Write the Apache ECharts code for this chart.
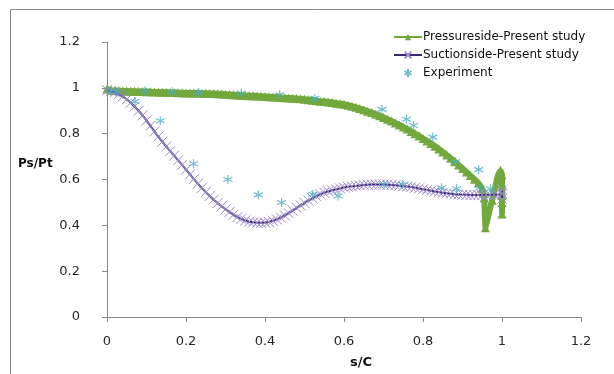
<!DOCTYPE html>
<html><head><meta charset="utf-8">
<script src="https://cdn.jsdelivr.net/npm/echarts@6/dist/echarts.min.js"></script>
<style>html,body{margin:0;padding:0;background:#fff}#c{width:614px;height:374px}</style>
</head><body><div id="c"></div>
<script>
const xTicks = [0, 0.2, 0.4, 0.6, 0.8, 1, 1.2];
const yTicks = [0, 0.2, 0.4, 0.6, 0.8, 1, 1.2];
const seriesNames = ['Pressureside-Present study', 'Suctionside-Present study', 'Experiment'];

const pressureX = [0,0.01,0.02,0.03,0.04,0.05,0.06,0.07,0.08,0.09,0.10,0.11,0.12,0.13,0.14,0.15,0.16,0.17,0.18,0.19,0.20,0.21,0.22,0.23,0.24,0.25,0.26,0.27,0.28,0.29,0.30,0.31,0.32,0.33,0.34,0.35,0.36,0.37,0.38,0.39,0.40,0.41,0.42,0.43,0.44,0.45,0.46,0.47,0.48,0.49,0.50,0.51,0.52,0.53,0.54,0.55,0.56,0.57,0.58,0.59,0.60,0.61,0.62,0.63,0.64,0.65,0.66,0.67,0.68,0.69,0.70,0.71,0.72,0.73,0.74,0.75,0.76,0.77,0.78,0.79,0.80,0.81,0.82,0.83,0.84,0.85,0.86,0.87,0.88,0.89,0.90,0.91,0.92,0.93,0.94,0.95,0.955,0.958,0.975,0.99,0.996,1.0,1.0,1.0,1.0,1.0];
const pressureY = [0.995,0.99,0.988,0.987,0.986,0.986,0.985,0.985,0.984,0.984,0.983,0.983,0.982,0.982,0.981,0.981,0.980,0.980,0.979,0.979,0.978,0.978,0.977,0.977,0.976,0.976,0.975,0.975,0.974,0.973,0.972,0.971,0.970,0.969,0.968,0.967,0.966,0.965,0.964,0.963,0.962,0.961,0.960,0.959,0.958,0.957,0.956,0.955,0.953,0.952,0.950,0.948,0.946,0.944,0.942,0.940,0.938,0.936,0.933,0.931,0.928,0.924,0.920,0.915,0.910,0.904,0.898,0.892,0.885,0.878,0.871,0.863,0.855,0.847,0.838,0.829,0.820,0.810,0.800,0.790,0.779,0.768,0.757,0.745,0.733,0.720,0.707,0.693,0.678,0.663,0.648,0.633,0.617,0.601,0.585,0.560,0.520,0.390,0.510,0.620,0.640,0.620,0.580,0.530,0.500,0.450];

const suctionX = [0,0.01,0.02,0.03,0.04,0.05,0.06,0.07,0.08,0.09,0.10,0.11,0.12,0.13,0.14,0.15,0.16,0.17,0.18,0.19,0.20,0.21,0.22,0.23,0.24,0.25,0.26,0.27,0.28,0.29,0.30,0.31,0.32,0.33,0.34,0.35,0.36,0.37,0.38,0.39,0.40,0.41,0.42,0.43,0.44,0.45,0.46,0.47,0.48,0.49,0.50,0.51,0.52,0.53,0.54,0.55,0.56,0.57,0.58,0.59,0.60,0.61,0.62,0.63,0.64,0.65,0.66,0.67,0.68,0.69,0.70,0.71,0.72,0.73,0.74,0.75,0.76,0.77,0.78,0.79,0.80,0.81,0.82,0.83,0.84,0.85,0.86,0.87,0.88,0.89,0.90,0.91,0.92,0.93,0.94,0.95,0.96,0.97,0.98,0.99,1.0,1.0,1.0,1.0];
const suctionY = [0.99,0.985,0.98,0.972,0.962,0.95,0.935,0.918,0.90,0.88,0.858,0.834,0.81,0.787,0.765,0.744,0.724,0.704,0.684,0.664,0.643,0.622,0.602,0.582,0.563,0.545,0.528,0.512,0.497,0.483,0.470,0.458,0.446,0.436,0.428,0.421,0.416,0.413,0.411,0.411,0.412,0.415,0.420,0.426,0.434,0.443,0.453,0.464,0.476,0.487,0.498,0.508,0.518,0.527,0.535,0.542,0.548,0.553,0.557,0.561,0.565,0.568,0.570,0.572,0.574,0.576,0.577,0.578,0.578,0.578,0.578,0.577,0.576,0.575,0.573,0.571,0.569,0.567,0.564,0.561,0.557,0.554,0.551,0.548,0.545,0.542,0.540,0.538,0.536,0.535,0.534,0.533,0.532,0.532,0.532,0.532,0.533,0.533,0.534,0.534,0.535,0.555,0.515,0.540];

const expX = [0.01,0.025,0.071,0.096,0.135,0.165,0.219,0.232,0.306,0.340,0.383,0.437,0.442,0.521,0.526,0.585,0.696,0.701,0.748,0.758,0.776,0.825,0.847,0.882,0.885,0.941,0.944,0.971];
const expY = [0.985,0.983,0.940,0.986,0.856,0.983,0.669,0.980,0.600,0.976,0.533,0.970,0.500,0.535,0.954,0.528,0.906,0.578,0.578,0.863,0.836,0.785,0.564,0.677,0.560,0.643,0.564,0.560];

const zip = (a, b) => a.map((v, i) => [v, b[i]]);
const FONT = 'DejaVu Sans';
const green = '#72A83C', purpleLine = '#3B2679', purpleMark = '#9C8CC9', aqua = '#4BACC6';

const chart = echarts.init(document.getElementById('c'), null, {renderer: 'canvas'});
chart.setOption({
  animation: false,
  backgroundColor: '#fff',
  grid: {left: 107, right: 33, top: 42, bottom: 57, containLabel: false},
  xAxis: {
    type: 'value', min: 0, max: 1.2, interval: 0.2,
    axisLine: {show: true, lineStyle: {color: '#868686', width: 1}},
    axisTick: {show: true, inside: false, length: 5, lineStyle: {color: '#868686'}},
    splitLine: {show: false},
    axisLabel: {margin: 18, color: '#262626', fontFamily: FONT, fontSize: 13,
      formatter: v => { const t = xTicks.find(k => Math.abs(k - v) < 1e-6); return t === undefined ? '' : String(t); }}
  },
  yAxis: {
    type: 'value', min: 0, max: 1.2, interval: 0.2,
    axisLine: {show: true, lineStyle: {color: '#868686', width: 1}},
    axisTick: {show: true, inside: false, length: 5, lineStyle: {color: '#868686'}},
    splitLine: {show: false},
    axisLabel: {margin: 27, color: '#262626', fontFamily: FONT, fontSize: 13,
      formatter: v => { const t = yTicks.find(k => Math.abs(k - v) < 1e-6); return t === undefined ? '' : String(t); }}
  },
  legend: {
    orient: 'vertical', left: 388, top: 26, itemGap: 6, itemWidth: 28, itemHeight: 8,
    textStyle: {fontFamily: FONT, fontSize: 12, color: '#111', padding: [0,0,0,-4]},
    data: seriesNames
  },
  graphic: [
    {type: 'rect', shape: {x: 10.5, y: 9.5, width: 700, height: 500}, style: {fill: 'none', stroke: '#8c8c8c', lineWidth: 1}, silent: true, z: -1},
    {type: 'text', left: 18, top: 158, style: {text: 'Ps/Pt', font: 'bold 12px "DejaVu Sans"', fill: '#111'}},
    {type: 'text', left: 350, top: 356, style: {text: 's/C', font: 'bold 13px "DejaVu Sans"', fill: '#111'}}
  ],
  series: [
    {
      name: seriesNames[0], type: 'line', data: zip(pressureX, pressureY),
      symbol: 'triangle', symbolSize: 9, showAllSymbol: true,
      lineStyle: {color: green, width: 6},
      itemStyle: {color: green}, z: 2
    },
    {
      name: seriesNames[1], type: 'line', data: zip(suctionX, suctionY),
      symbol: 'path://M0,0L10,10M0,10L10,0', symbolSize: 10, showAllSymbol: true,
      lineStyle: {color: purpleLine, width: 2},
      itemStyle: {color: 'rgba(0,0,0,0)', borderColor: purpleMark, borderWidth: 1}, z: 3
    },
    {
      name: seriesNames[2], type: 'scatter', data: zip(expX, expY),
      symbol: 'path://M5,0L5,10M0.8,2.5L9.2,7.5M0.8,7.5L9.2,2.5', symbolSize: 9,
      itemStyle: {color: 'rgba(0,0,0,0)', borderColor: aqua, borderWidth: 1.2}, z: 4
    }
  ]
});
</script></body></html>
